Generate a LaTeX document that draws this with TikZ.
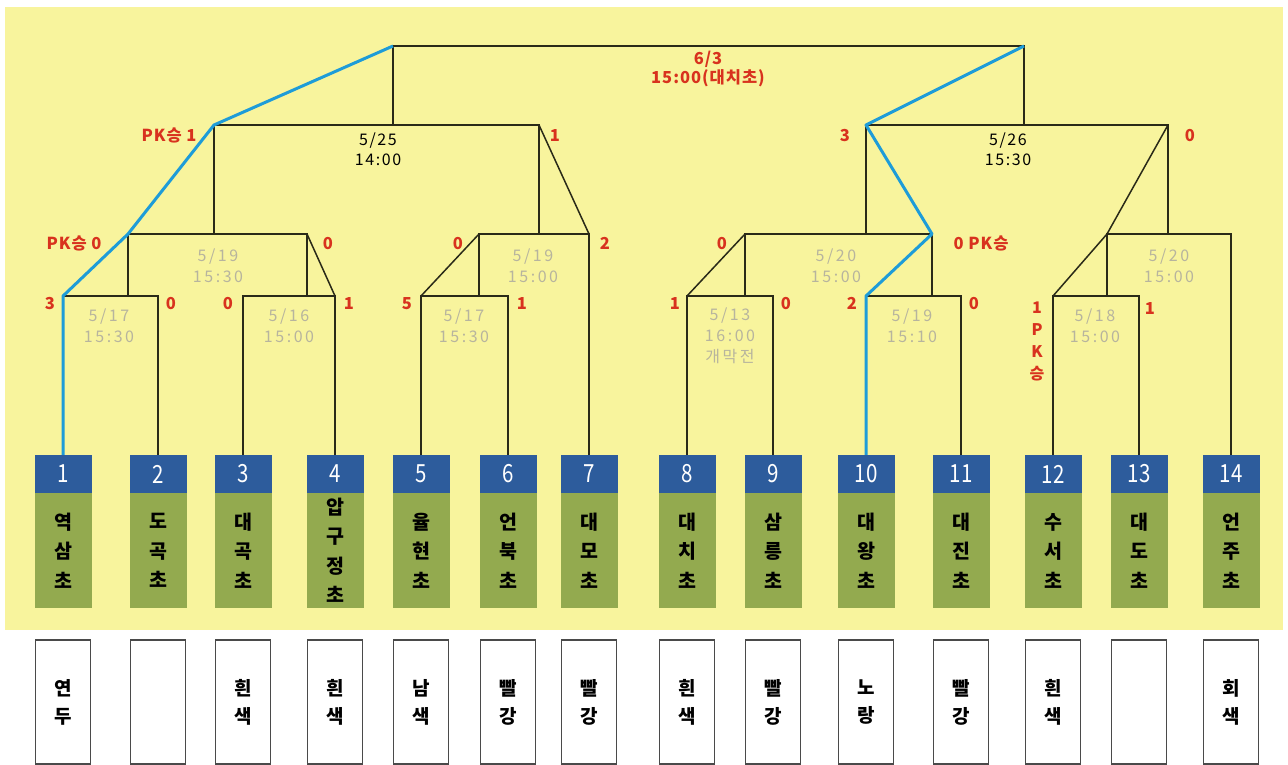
\documentclass[tikz,border=0pt]{standalone}
\usepackage{fontspec}
\setmainfont{Noto Sans CJK KR}
\newfontfamily\grayf[LetterSpace=16]{Noto Sans CJK KR}
\newfontfamily\blkf[LetterSpace=10]{Noto Sans CJK KR}
\newfontfamily\redf[LetterSpace=6]{Noto Sans CJK KR}
\newfontfamily\numf[FakeStretch=0.82]{Noto Sans CJK KR}
\definecolor{bgyel}{HTML}{F8F49D}
\definecolor{headblue}{HTML}{2D5C9C}
\definecolor{teamgreen}{HTML}{93AA4F}
\definecolor{linec}{HTML}{2A2A18}
\definecolor{pathblue}{HTML}{1E9CD8}
\definecolor{redc}{HTML}{D8321E}
\definecolor{grayc}{HTML}{B7B49E}
\definecolor{unibord}{HTML}{4A4A4A}
\begin{document}
\begin{tikzpicture}[x=1pt,y=-1pt,
  bk/.style={draw=linec, line width=1.5pt},
  bl/.style={draw=pathblue, line width=3pt, line join=round},
  redlab/.style={text=redc, font=\redf\bfseries\fontsize{16.5}{20}\selectfont, inner sep=0pt, text height=12pt, text depth=0pt},
  graylab/.style={text=grayc, font=\grayf\fontsize{16}{21}\selectfont, inner sep=0pt, align=center},
  blacklab/.style={text=black, font=\blkf\fontsize{16}{20}\selectfont, inner sep=0pt, align=center},
  header/.style={fill=headblue, minimum width=57pt, minimum height=38pt, inner sep=0pt, text=white, font=\numf\fontsize{25}{25}\selectfont},
  teambox/.style={fill=teamgreen, minimum width=57pt, minimum height=115pt, inner sep=0pt, align=center, font=\bfseries\fontsize{19.5}{29.5}\selectfont},
  unibox/.style={draw=unibord, line width=1.3pt, fill=white, minimum width=55pt, minimum height=124pt, inner sep=0pt, align=center, font=\bfseries\fontsize{19}{28}\selectfont}]
\useasboundingbox (0,0) rectangle (1288,764);
\fill[white] (0,0) rectangle (1288,764);
\fill[bgyel] (5,7) rectangle (1283,630);
% teams
\foreach \i/\cx/\nm/\un in {1/63/{역\\삼\\초}/{연\\두},2/158/{도\\곡\\초}/{},3/243/{대\\곡\\초}/{흰\\색},4/335/{압\\구\\정\\초}/{흰\\색},5/421/{율\\현\\초}/{남\\색},6/508/{언\\북\\초}/{빨\\강},7/589/{대\\모\\초}/{빨\\강},8/687/{대\\치\\초}/{흰\\색},9/773/{삼\\릉\\초}/{빨\\강},10/866/{대\\왕\\초}/{노\\랑},11/961/{대\\진\\초}/{빨\\강},12/1053/{수\\서\\초}/{흰\\색},13/1139/{대\\도\\초}/{},14/1231/{언\\주\\초}/{회\\색}}{
  \node[header] (h\i) at (\cx,474) {\i};
  \node[teambox] (t\i) at (\cx,550.5) {\nm};
  \node[unibox] (u\i) at (\cx,702) {\un};
}
% bracket corners
\coordinate (A1) at (63,296); \coordinate (A2) at (158,296);
\coordinate (B1) at (243,296); \coordinate (B2) at (335,296);
\coordinate (C1) at (128,234); \coordinate (C2) at (307,234);
\coordinate (C1b) at (128,296); \coordinate (C2b) at (307,296);
\coordinate (D1) at (214,125); \coordinate (D2) at (539,125);
\coordinate (D1b) at (214,234); \coordinate (D2b) at (539,234);
\coordinate (F1) at (393,46); \coordinate (F2) at (1024,46);
\coordinate (F1b) at (393,125); \coordinate (F2b) at (1024,125);
\coordinate (E1) at (421,296); \coordinate (E2) at (508,296); \coordinate (E3) at (479,296);
\coordinate (G1) at (479,234); \coordinate (G2) at (589,234);
\coordinate (H1) at (687,296); \coordinate (H2) at (773,296); \coordinate (H3) at (745,296);
\coordinate (I1) at (745,234); \coordinate (I2) at (932,234); \coordinate (I3) at (866,234); \coordinate (I4) at (932,296);
\coordinate (J1) at (866,296); \coordinate (J2) at (961,296);
\coordinate (K1) at (866,125); \coordinate (K2) at (1168,125); \coordinate (K3) at (1168,234);
\coordinate (L1) at (1107,234); \coordinate (L2) at (1231,234); \coordinate (L3) at (1107,296);
\coordinate (M1) at (1053,296); \coordinate (M2) at (1139,296);
% black bracket lines
\draw[bk] (A1) -- (A2) -- (h2.north);
\draw[bk] (h3.north) -- (B1) -- (B2) -- (h4.north);
\draw[bk] (C1b) -- (C1) -- (C2) -- (C2b);
\draw[bk] (C2) -- (B2);
\draw[bk] (D1b) -- (D1) -- (D2) -- (D2b);
\draw[bk] (D2) -- (G2);
\draw[bk] (F1b) -- (F1) -- (F2) -- (F2b);
\draw[bk] (h5.north) -- (E1) -- (E2) -- (h6.north);
\draw[bk] (E1) -- (G1);
\draw[bk] (E3) -- (G1) -- (G2) -- (h7.north);
\draw[bk] (h8.north) -- (H1) -- (H2) -- (h9.north);
\draw[bk] (H1) -- (I1);
\draw[bk] (H3) -- (I1) -- (I2) -- (I4);
\draw[bk] (J1) -- (J2) -- (h11.north);
\draw[bk] (I3) -- (K1) -- (K2) -- (K3);
\draw[bk] (K2) -- (L1) -- (M1);
\draw[bk] (L3) -- (L1) -- (L2) -- (h14.north);
\draw[bk] (h12.north) -- (M1) -- (M2) -- (h13.north);
% winner paths
\draw[bl] (h1.north) -- (A1) -- (C1) -- (D1) -- (F1);
\draw[bl] (F2) -- (K1) -- (I2) -- (J1) -- (h10.north);
% red scores
\node[redlab] (s1) at (169,135) {PK승 1};
\node[redlab] (s2) at (555,135) {1};
\node[redlab] (s3) at (845,135) {3};
\node[redlab] (s4) at (1190,135) {0};
\node[redlab] (s5) at (74,243) {PK승 0};
\node[redlab] (s6) at (328,243) {0};
\node[redlab] (s7) at (458,243) {0};
\node[redlab] (s8) at (605,243) {2};
\node[redlab] (s9) at (722,243) {0};
\node[redlab] (s10) at (981,243) {0 PK승};
\node[redlab] (s11) at (50,303) {3};
\node[redlab] (s12) at (171,303) {0};
\node[redlab] (s13) at (228,303) {0};
\node[redlab] (s14) at (349,303) {1};
\node[redlab] (s15) at (407,303) {5};
\node[redlab] (s16) at (522,303) {1};
\node[redlab] (s17) at (675,303) {1};
\node[redlab] (s18) at (786,303) {0};
\node[redlab] (s19) at (852,303) {2};
\node[redlab] (s20) at (974,303) {0};
\node[redlab] (s21) at (1150,308) {1};
\node[text=redc, font=\bfseries\fontsize{16}{22}\selectfont, inner sep=0pt, align=center] (s22) at (1037,341) {1\\P\\K\\승};
\node[text=redc, font=\redf\bfseries\fontsize{16.5}{19}\selectfont, inner sep=0pt, align=center] (fin) at (708,69) {6/3\\15:00(대치초)};
% black dates
\node[blacklab] (d1) at (378,149) {5/25\\14:00};
\node[blacklab] (d2) at (1008,149) {5/26\\15:30};
% gray dates
\node[graylab] (g1) at (109,326) {5/17\\15:30};
\node[graylab] (g2) at (218,266) {5/19\\15:30};
\node[graylab] (g3) at (289,326) {5/16\\15:00};
\node[graylab] (g4) at (464,326) {5/17\\15:30};
\node[graylab] (g5) at (533,266) {5/19\\15:00};
\node[graylab] (g6) at (730,336) {5/13\\16:00\\개막전};
\node[graylab] (g7) at (836,266) {5/20\\15:00};
\node[graylab] (g8) at (912,326) {5/19\\15:10};
\node[graylab] (g9) at (1095,326) {5/18\\15:00};
\node[graylab] (g10) at (1169,266) {5/20\\15:00};
\end{tikzpicture}
\end{document}
